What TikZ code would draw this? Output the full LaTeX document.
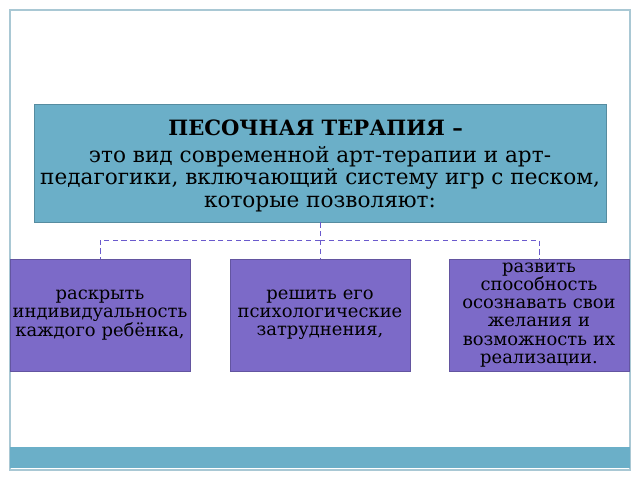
\documentclass[tikz,border=0pt]{standalone}
\usepackage{fontspec}
\setmainfont{DejaVu Serif}
\definecolor{frameblue}{HTML}{A9C8D4}
\definecolor{headblue}{HTML}{6BAFC8}
\definecolor{boxviolet}{HTML}{7C6AC8}
\definecolor{linkviolet}{HTML}{6A5ACD}
\tikzset{
  head/.style={fill=headblue, draw=headblue!80!black, minimum width=11.44cm, minimum height=2.36cm, inner sep=0pt},
  goal/.style={fill=boxviolet, draw=boxviolet!80!black, minimum width=3.6cm, minimum height=2.24cm, inner sep=0pt, align=center, text width=3.6cm, font=\fontsize{10.2}{10.3}\selectfont},
  link/.style={draw=linkviolet, densely dashed, line width=0.3pt}
}
\begin{document}
\begin{tikzpicture}[x=0.02cm,y=-0.02cm]
    % Canvas and frame
    \useasboundingbox (0,0) rectangle (640,480);
    \draw[frameblue, line width=0.8pt] (10,10) rectangle (630,470);
    \fill[headblue] (10,447) rectangle (630,468);

    % Header
    \node[head] (head) at (320,163) {};
    \node[anchor=west, inner sep=0pt, font=\fontsize{12}{12.8}\selectfont\bfseries] (title) at (168,128) {ПЕСОЧНАЯ ТЕРАПИЯ –};
    \node[align=center, inner sep=0pt, font=\fontsize{12.3}{12.8}\selectfont] (text) at (320,179)
        {это вид современной арт-терапии и арт-\\педагогики, включающий систему игр с песком,\\которые позволяют:};

    % Goal boxes
    \node[goal] (g1) at (100,315) {раскрыть\\индивидуальность\\каждого ребёнка,};
    \node[goal] (g2) at (320,315) {решить его\\психологические\\затруднения,};
    \node[goal] (g3) at (539,315) {развить\\способность\\осознавать свои\\желания и\\возможность их\\реализации.};

    % Connectors
    \coordinate (fork) at (320,240);
    \draw[link] (head.south) -- (fork);
    \draw[link] (fork) -| (g1.north);
    \draw[link] (fork) -- (g2.north);
    \draw[link] (fork) -| (g3.north);
\end{tikzpicture}
\end{document}
